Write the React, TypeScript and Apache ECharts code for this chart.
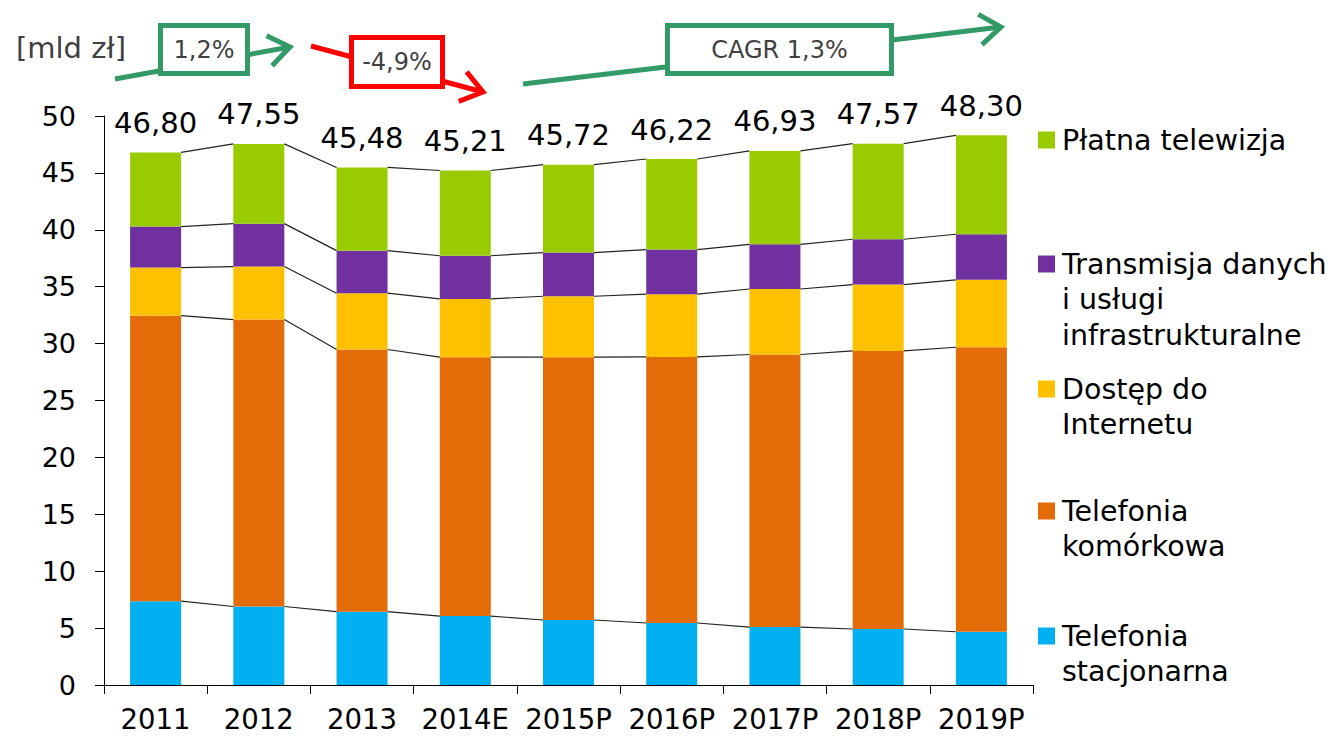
import React, { useEffect, useRef } from "react";
import * as echarts from "echarts";

const categories = ["2011", "2012", "2013", "2014E", "2015P", "2016P", "2017P", "2018P", "2019P"];
const telefoniaStacjonarna = [7.37, 6.9, 6.44, 6.06, 5.71, 5.45, 5.09, 4.92, 4.68];
const telefoniaKomorkowa = [25.08, 25.21, 23.04, 22.75, 23.1, 23.38, 23.95, 24.44, 25.0];
const dostepDoInternetu = [4.23, 4.66, 4.95, 5.12, 5.35, 5.51, 5.76, 5.83, 5.92];
const transmisjaDanych = [3.6, 3.77, 3.74, 3.79, 3.84, 3.92, 3.92, 3.98, 4.01];
const platnaTelewizja = [6.52, 7.01, 7.31, 7.49, 7.72, 7.96, 8.21, 8.4, 8.69];
const totals = [46.8, 47.55, 45.48, 45.21, 45.72, 46.22, 46.93, 47.57, 48.3];
const yTicks = { min: 0, max: 50, interval: 5 };

const seriesDefs = [
  { name: "Telefonia\nstacjonarna", data: telefoniaStacjonarna, color: "#00B0F0" },
  { name: "Telefonia\nkomórkowa", data: telefoniaKomorkowa, color: "#E36C09" },
  { name: "Dostęp do\nInternetu", data: dostepDoInternetu, color: "#FFC000" },
  { name: "Transmisja danych\ni usługi\ninfrastrukturalne", data: transmisjaDanych, color: "#7030A0" },
  { name: "Płatna telewizja", data: platnaTelewizja, color: "#99CC00" },
];

const FONT = "DejaVu Sans";
const BAR_W = 51;

function arrow(x1: number, y1: number, x2: number, y2: number, color: string) {
  const ang = Math.atan2(y2 - y1, x2 - x1);
  const len = 26;
  const spread = (36 * Math.PI) / 180;
  const a1 = [x2 - len * Math.cos(ang - spread), y2 - len * Math.sin(ang - spread)];
  const a2 = [x2 - len * Math.cos(ang + spread), y2 - len * Math.sin(ang + spread)];
  return [
    { type: "line", shape: { x1, y1, x2, y2 }, style: { stroke: color, lineWidth: 5 }, z: 10 },
    {
      type: "polyline",
      shape: { points: [a1, [x2, y2], a2] },
      style: { stroke: color, lineWidth: 5, fill: null, lineJoin: "miter" },
      z: 10,
    },
  ];
}

function box(x: number, y: number, w: number, h: number, color: string, text: string) {
  return [
    { type: "rect", shape: { x, y, width: w, height: h }, style: { fill: "#fff", stroke: color, lineWidth: 5 }, z: 11 },
    {
      type: "text",
      x: x + w / 2,
      y: y + h / 2,
      style: { text, fill: "#404040", fontSize: 24, fontFamily: FONT, align: "center", verticalAlign: "middle" },
      z: 12,
    },
  ];
}

export default function App() {
  const ref = useRef<HTMLDivElement>(null);
  useEffect(() => {
    if (!ref.current) return;
    const chart = echarts.init(ref.current, null, { renderer: "svg" });

    // cumulative tops for connector lines
    const cum: number[][] = [];
    seriesDefs.forEach((s, k) => {
      cum.push(s.data.map((v, i) => (k === 0 ? v : cum[k - 1][i] + v)));
    });
    const connectorData: number[][] = [];
    cum.forEach((level) => {
      for (let i = 0; i < level.length - 1; i++) connectorData.push([i, level[i], level[i + 1]]);
    });

    const barSeries = seriesDefs.map((s, k) => ({
      type: "bar",
      name: s.name,
      stack: "total",
      data: s.data,
      barWidth: BAR_W,
      itemStyle: { color: s.color },
      label:
        k === seriesDefs.length - 1
          ? {
              show: true,
              position: "top",
              distance: 15,
              fontSize: 29,
              fontFamily: FONT,
              color: "#000",
              formatter: (p: any) => totals[p.dataIndex].toFixed(2).replace(".", ","),
            }
          : { show: false },
    }));

    const legendItems = [
      { color: "#99CC00", text: "Płatna telewizja", y: 140 },
      { color: "#7030A0", text: "Transmisja danych\ni usługi\ninfrastrukturalne", y: 264 },
      { color: "#FFC000", text: "Dostęp do\nInternetu", y: 389 },
      { color: "#E36C09", text: "Telefonia\nkomórkowa", y: 511 },
      { color: "#00B0F0", text: "Telefonia\nstacjonarna", y: 636 },
    ];
    const LH = 35.5;
    const legendGraphics: any[] = [];
    legendItems.forEach((it) => {
      legendGraphics.push({
        type: "rect",
        shape: { x: 1038, y: it.y - 8.5, width: 17, height: 17 },
        style: { fill: it.color },
      });
      legendGraphics.push({
        type: "text",
        x: 1062,
        y: it.y - LH / 2,
        style: {
          text: it.text,
          fill: "#000",
          fontSize: 28.5,
          fontFamily: FONT,
          lineHeight: LH,
          align: "left",
          verticalAlign: "top",
        },
      });
    });

    const option: any = {
      animation: false,
      textStyle: { fontFamily: FONT },
      grid: { left: 104, right: 306, top: 116, bottom: 51, containLabel: false },
      xAxis: {
        type: "category",
        data: categories,
        axisLine: { lineStyle: { color: "#000", width: 1 } },
        axisTick: { show: true, alignWithLabel: false, length: 9, lineStyle: { color: "#000" } },
        axisLabel: { fontSize: 27.5, color: "#000", margin: 20, fontFamily: FONT, interval: 0 },
      },
      yAxis: {
        type: "value",
        min: yTicks.min,
        max: yTicks.max,
        interval: yTicks.interval,
        axisLine: { show: true, lineStyle: { color: "#000", width: 1 } },
        axisTick: { show: true, length: 9, lineStyle: { color: "#000" } },
        splitLine: { show: false },
        axisLabel: { fontSize: 27, color: "#000", margin: 28, fontFamily: FONT },
      },
      series: [
        ...barSeries,
        {
          type: "custom",
          data: connectorData,
          encode: { x: 0, y: 1 },
          silent: true,
          z: 5,
          renderItem: (params: any, api: any) => {
            const i = api.value(0);
            const p1 = api.coord([i, api.value(1)]);
            const p2 = api.coord([i + 1, api.value(2)]);
            return {
              type: "line",
              shape: { x1: p1[0] + BAR_W / 2, y1: p1[1], x2: p2[0] - BAR_W / 2, y2: p2[1] },
              style: { stroke: "#222", lineWidth: 1.2 },
            };
          },
        },
      ],
      graphic: [
        {
          type: "text",
          x: 16,
          y: 48,
          style: { text: "[mld zł]", fill: "#404040", fontSize: 29, fontFamily: FONT, verticalAlign: "middle" },
        },
        ...arrow(115, 79, 290, 47, "#339966"),
        ...box(160.5, 25.5, 87, 48, "#339966", "1,2%"),
        ...arrow(311, 46, 483, 92, "#FF0000"),
        ...box(351.5, 37.5, 91, 49, "#FF0000", "-4,9%"),
        ...arrow(523, 84, 1001, 27, "#339966"),
        ...box(667.5, 25.5, 224, 48, "#339966", "CAGR 1,3%"),
        ...legendGraphics,
      ],
    };
    chart.setOption(option);
    return () => chart.dispose();
  }, []);
  return <div ref={ref} style={{ position: "absolute", left: 0, top: 0, width: 1339, height: 736 }} />;
}
